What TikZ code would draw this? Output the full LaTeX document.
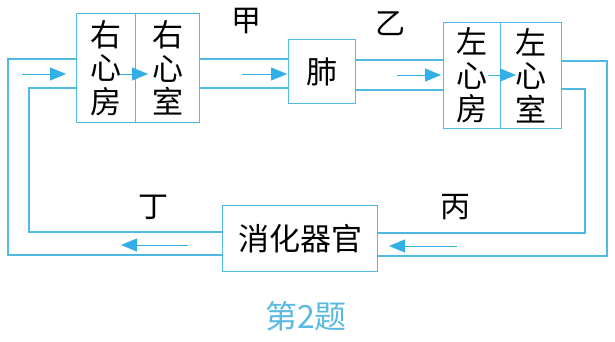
\documentclass[tikz,border=0pt]{standalone}
\usepackage{fontspec}
\setmainfont{Noto Sans CJK SC}
\usetikzlibrary{arrows.meta}
\definecolor{pipe}{RGB}{80,185,225}
\definecolor{arr}{RGB}{50,175,230}
\definecolor{ttl}{RGB}{90,185,225}
\begin{document}
\begin{tikzpicture}[x=1pt,y=-1pt,
  box/.style={draw=pipe,line width=1.3pt,fill=white,inner sep=0pt,anchor=north west,align=center,font=\fontsize{31}{33.5}\selectfont},
  pipeline/.style={draw=pipe,line width=1.3pt},
  flow/.style={draw=arr,line width=1pt,-{Triangle[length=16pt,width=13pt]}},
  lbl/.style={font=\fontsize{30}{32}\selectfont}]
\useasboundingbox (0,0) rectangle (615,341);
% boxes
\node[box,minimum width=59pt,minimum height=109pt] (ra) at (76,13) {右\\心\\房};
\node[box,minimum width=64pt,minimum height=109pt] (rv) at (135,13) {右\\心\\室};
\node[box,minimum width=67pt,minimum height=64pt] (lung) at (288,39) {肺};
\node[box,minimum width=57pt,minimum height=106pt] (la) at (443,22) {左\\心\\房};
\node[box,minimum width=61pt,minimum height=106pt] (lv) at (500,22) {左\\心\\室};
\node[box,minimum width=155pt,minimum height=66pt] (dig) at (222,205) {消化器官};
% pipes
\draw[pipeline] (rv.east |- 0,59) -- (lung.west |- 0,59);
\draw[pipeline] (rv.east |- 0,88) -- (lung.west |- 0,88);
\draw[pipeline] (lung.east |- 0,60) -- (la.west |- 0,60);
\draw[pipeline] (lung.east |- 0,90) -- (la.west |- 0,90);
\draw[pipeline] (ra.west |- 0,59) -- (8,59) -- (8,255) -- (dig.west |- 0,255);
\draw[pipeline] (ra.west |- 0,88) -- (29,88) -- (29,232) -- (dig.west |- 0,232);
\draw[pipeline] (lv.east |- 0,61) -- (607,61) -- (607,256) -- (dig.east |- 0,256);
\draw[pipeline] (lv.east |- 0,89) -- (585,89) -- (585,233) -- (dig.east |- 0,233);
% flow arrows
\draw[flow] (22,74) -- (66,74);
\draw[flow] (120,74) -- (148,74);
\draw[flow] (242,74) -- (287,74);
\draw[flow] (397,75) -- (441,75);
\draw[flow] (488,75) -- (516,75);
\draw[flow] (188,245) -- (121,245);
\draw[flow] (457,246) -- (389,246);
% labels
\node[lbl] (jia) at (246,21) {甲};
\node[lbl] (yi) at (390,24) {乙};
\node[lbl] (ding) at (153,207) {丁};
\node[lbl] (bing) at (455,207) {丙};
\node[font=\fontsize{32}{34}\selectfont, text=ttl] (title) at (306,316) {第2题};
\end{tikzpicture}
\end{document}
